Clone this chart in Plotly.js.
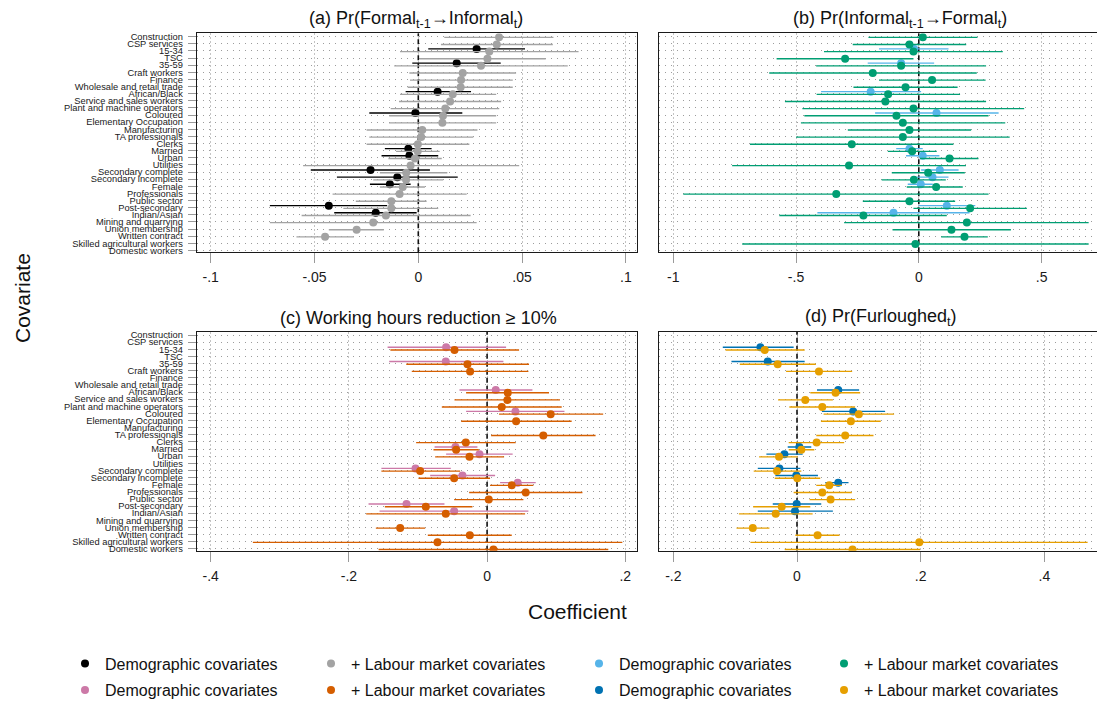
<!DOCTYPE html>
<html>
<head>
<meta charset="utf-8">
<script src="https://cdn.plot.ly/plotly-3.0.1.min.js"></script>
<style>
  html, body { margin: 0; padding: 0; overflow: hidden; background: #fff; }
  #chart { width: 1160px; height: 702px; }
</style>
</head>
<body>
<div id="chart"></div>
<script>
// Covariates, listed top to bottom
const covariates = [
  "Construction", "CSP services", "15-34", "TSC", "35-59", "Craft workers", "Finance",
  "Wholesale and retail trade", "African/Black", "Service and sales workers",
  "Plant and machine operators", "Coloured", "Elementary Occupation", "Manufacturing",
  "TA professionals", "Clerks", "Married", "Urban", "Utilities", "Secondary complete",
  "Secondary incomplete", "Female", "Professionals", "Public sector", "Post-secondary",
  "Indian/Asian", "Mining and quarrying", "Union membership", "Written contract",
  "Skilled agricultural workers", "Domestic workers"
];

// Covariates present in the demographic-only models
const demoCovariates = [
  "15-34", "35-59", "African/Black", "Coloured", "Married", "Urban",
  "Secondary complete", "Secondary incomplete", "Female", "Post-secondary", "Indian/Asian"
];

// (a) Pr(Formal t-1 -> Informal t)
const aDemEst = [0.0281, 0.0185, 0.0093, -0.0014, -0.0048, -0.0043, -0.0230, -0.0101, -0.0137, -0.0431, -0.0205];
const aDemLo  = [0.0048, -0.0029, -0.0061, -0.0236, -0.0161, -0.0177, -0.0518, -0.0392, -0.0233, -0.0715, -0.0405];
const aDemHi  = [0.0514, 0.0397, 0.0254, 0.0212, 0.0064, 0.0096, 0.0056, 0.0190, -0.0037, -0.0150, -0.0008];
const aLabEst = [0.0389, 0.0378, 0.0342, 0.0333, 0.0302, 0.0214, 0.0206, 0.0204, 0.0166, 0.0153, 0.0130,
  0.0119, 0.0116, 0.0019, 0.0014, -0.0002, -0.0003, -0.0016, -0.0037, -0.0058, -0.0059, -0.0075,
  -0.0090, -0.0130, -0.0130, -0.0156, -0.0217, -0.0297, -0.0449, null, null];
const aLabLo  = [0.0125, 0.0109, -0.0088, 0.0005, -0.0116, -0.0043, -0.0040, -0.0051, -0.0088, -0.0093, -0.0133,
  -0.0140, -0.0141, -0.0249, -0.0236, -0.0249, -0.0107, -0.0144, -0.0555, -0.0185, -0.0217, -0.0185,
  -0.0413, -0.0301, -0.0361, -0.0562, -0.0715, -0.0431, -0.0587, null, null];
const aLabHi  = [0.0651, 0.0648, 0.0772, 0.0614, 0.0720, 0.0471, 0.0455, 0.0455, 0.0375, 0.0399, 0.0390,
  0.0375, 0.0375, 0.0285, 0.0265, 0.0246, 0.0103, 0.0113, 0.0486, 0.0140, 0.0120, 0.0032,
  0.0233, 0.0040, 0.0096, 0.0252, 0.0281, -0.0166, -0.0310, null, null];

// (b) Pr(Informal t-1 -> Formal t)
const bDemEst = [-0.019, -0.072, -0.196, 0.072, -0.038, 0.016, 0.0856, 0.0557, 0.008, 0.114, -0.103];
const bDemLo  = [-0.162, -0.208, -0.398, -0.178, -0.092, -0.052, 0.0095, -0.008, -0.045, -0.001, -0.413];
const bDemHi  = [0.121, 0.0625, 0.0095, 0.325, 0.016, 0.084, 0.162, 0.121, 0.057, 0.230, 0.2065];
const bLabEst = [0.0163, -0.038, -0.0217, -0.300, -0.072, -0.1875, 0.054, -0.054, -0.125, -0.136, -0.0217,
  -0.091, -0.065, -0.038, -0.065, -0.273, -0.027, 0.125, -0.284, 0.038, -0.020, 0.0707,
  -0.336, -0.038, 0.209, -0.2255, 0.1957, 0.133, 0.186, -0.0136, null];
const bLabLo  = [-0.205, -0.269, -0.386, -0.579, -0.418, -0.609, -0.162, -0.266, -0.416, -0.545, -0.474,
  -0.466, -0.480, -0.289, -0.500, -0.6875, -0.126, 0.005, -0.760, -0.110, -0.151, -0.049,
  -0.959, -0.228, -0.0217, -0.568, -0.304, -0.107, 0.091, -0.719, null];
const bLabHi  = [0.239, 0.193, 0.342, -0.0217, 0.274, 0.236, 0.272, 0.158, 0.168, 0.274, 0.429,
  0.284, 0.352, 0.213, 0.370, 0.141, 0.073, 0.243, 0.192, 0.1875, 0.110, 0.179,
  0.284, 0.148, 0.440, 0.114, 0.6916, 0.375, 0.281, 0.6916, null];

// (c) Working hours reduction >= 10%
const cDemEst = [-0.0593, -0.0598, 0.0125, 0.041, -0.0458, -0.011, -0.1036, -0.0357, 0.0443, -0.1166, -0.0477];
const cDemLo  = [-0.144, -0.1417, -0.040, -0.0304, -0.076, -0.0593, -0.153, -0.0824, 0.0188, -0.1716, -0.1557];
const cDemHi  = [0.0275, 0.0236, 0.0656, 0.112, -0.014, 0.037, -0.0525, 0.0116, 0.0704, -0.0617, 0.0598];
const cLabEst = [null, null, -0.0472, null, -0.0284, -0.0246, null, null, 0.0299, 0.0294, 0.0212,
  0.092, 0.042, null, 0.0814, -0.0308, -0.0448, -0.0255, null, -0.0969, -0.0477, 0.0357,
  0.0559, 0.0024, -0.0887, -0.0598, null, -0.1258, -0.025, -0.0718, 0.0092];
const cLabLo  = [null, null, -0.140, null, -0.117, -0.109, null, null, -0.0304, -0.0472, -0.0655,
  0.0173, -0.0376, null, 0.0058, -0.1027, -0.0776, -0.0752, null, -0.153, -0.0993, 0.0043,
  -0.026, -0.0477, -0.148, -0.175, null, -0.161, -0.0858, -0.339, -0.157];
const cLabHi  = [null, null, 0.0463, null, 0.0607, 0.0598, null, null, 0.0896, 0.1055, 0.108,
  0.168, 0.1224, null, 0.157, 0.0414, -0.012, 0.0246, null, -0.039, 0.0043, 0.067,
  0.138, 0.0525, -0.0212, 0.055, null, -0.0896, 0.0357, 0.1957, 0.1754];

// (d) Pr(Furloughed t)
const dDemEst = [-0.0591, -0.0473, 0.0667, 0.0909, 0.0038, -0.0204, -0.0285, -0.0011, 0.0667, -0.0005, -0.0032];
const dDemLo  = [-0.120, -0.106, 0.0323, 0.0403, -0.015, -0.0495, -0.0634, -0.035, 0.0457, -0.0392, -0.0634];
const dDemHi  = [-0.0054, 0.0124, 0.1005, 0.1425, 0.0231, 0.0091, 0.0054, 0.0339, 0.0833, 0.0392, 0.058];
const dLabEst = [null, null, -0.0522, null, -0.0312, 0.0355, null, null, 0.0624, 0.0134, 0.0409,
  0.100, 0.0871, null, 0.078, 0.0317, 0.007, -0.029, null, -0.0323, 0.0005, 0.0522,
  0.0409, 0.0543, -0.0247, -0.0344, null, -0.0715, 0.0333, 0.1978, 0.0898];
const dLabLo  = [null, null, -0.1156, null, -0.0925, -0.0177, null, null, 0.0215, -0.0306, -0.0124,
  0.043, 0.0387, null, 0.0312, -0.0134, -0.0134, -0.0613, null, -0.070, -0.036, 0.0312,
  -0.0054, 0.0204, -0.071, -0.094, null, -0.0978, -0.0027, -0.0753, -0.0199];
const dLabHi  = [null, null, 0.0124, null, 0.0306, 0.0892, null, null, 0.1022, 0.058, 0.094,
  0.157, 0.1355, null, 0.1237, 0.0763, 0.028, 0.0011, null, 0.007, 0.0376, 0.0726,
  0.0887, 0.094, 0.0215, 0.0253, null, -0.0446, 0.0688, 0.470, 0.199];

// Axis tick labels
const aTicks = [-0.1, -0.05, 0, 0.05, 0.1],  aTickText = ["-.1", "-.05", "0", ".05", ".1"];
const bTicks = [-1, -0.5, 0, 0.5],           bTickText = ["-1", "-.5", "0", ".5"];
const cTicks = [-0.4, -0.2, 0, 0.2],         cTickText = ["-.4", "-.2", "0", ".2"];
const dTicks = [-0.2, 0, 0.2, 0.4],          dTickText = ["-.2", "0", ".2", ".4"];

const legendDemo = "Demographic covariates";
const legendLab = "+ Labour market covariates";

// ---------- layout helpers ----------
const W = 1160, H = 702;
const px = v => v / W;
const py = v => 1 - v / H;
const FONT = "Liberation Sans, Arial, Helvetica, sans-serif";
const DEM_OFF = -0.28, LAB_OFF = 0.1;   // vertical dodge of the two models within a row
const yRange = [30.27, -0.47];

const demoRows = demoCovariates.map(c => covariates.indexOf(c));
const allRows = covariates.map((c, i) => i);

function ciTrace(rows, est, lo, hi, off, color, xa, ya) {
  const xs = [], ys = [];
  rows.forEach((r, i) => {
    if (est[i] === null) return;
    xs.push(lo[i], hi[i], null);
    ys.push(r + off, r + off, null);
  });
  return { type: "scatter", mode: "lines", x: xs, y: ys, xaxis: xa, yaxis: ya,
           line: { color: color, width: 1.4 }, hoverinfo: "skip", showlegend: false };
}
function pointTrace(rows, est, off, color, xa, ya, name, legend) {
  const xs = [], ys = [];
  rows.forEach((r, i) => {
    if (est[i] === null) return;
    xs.push(est[i]); ys.push(r + off);
  });
  return { type: "scatter", mode: "markers", x: xs, y: ys, xaxis: xa, yaxis: ya,
           marker: { size: 8, color: color }, name: name, legend: legend,
           showlegend: true, hoverinfo: "skip" };
}
// Dashed vertical reference line at a coefficient of zero
function zeroTrace(xa, ya) {
  return { type: "scatter", mode: "lines", x: [0, 0], y: yRange, xaxis: xa, yaxis: ya,
           line: { color: "#111111", width: 1.6, dash: "5px,3px" },
           hoverinfo: "skip", showlegend: false };
}

const panels = [
  { xa: "x",  ya: "y",  dem: [aDemEst, aDemLo, aDemHi], lab: [aLabEst, aLabLo, aLabHi],
    cDem: "#000000", cLab: "#a3a3a3", lgDem: "legend",  lgLab: "legend2" },
  { xa: "x2", ya: "y2", dem: [bDemEst, bDemLo, bDemHi], lab: [bLabEst, bLabLo, bLabHi],
    cDem: "#56B4E9", cLab: "#009E73", lgDem: "legend3", lgLab: "legend4" },
  { xa: "x3", ya: "y3", dem: [cDemEst, cDemLo, cDemHi], lab: [cLabEst, cLabLo, cLabHi],
    cDem: "#CC79A7", cLab: "#D55E00", lgDem: "legend5", lgLab: "legend6" },
  { xa: "x4", ya: "y4", dem: [dDemEst, dDemLo, dDemHi], lab: [dLabEst, dLabLo, dLabHi],
    cDem: "#0072B2", cLab: "#E69F00", lgDem: "legend7", lgLab: "legend8" }
];

const traces = [];
panels.forEach(p => {
  traces.push(zeroTrace(p.xa, p.ya));
  traces.push(ciTrace(demoRows, p.dem[0], p.dem[1], p.dem[2], DEM_OFF, p.cDem, p.xa, p.ya));
  traces.push(pointTrace(demoRows, p.dem[0], DEM_OFF, p.cDem, p.xa, p.ya, legendDemo, p.lgDem));
  traces.push(ciTrace(allRows, p.lab[0], p.lab[1], p.lab[2], LAB_OFF, p.cLab, p.xa, p.ya));
  traces.push(pointTrace(allRows, p.lab[0], LAB_OFF, p.cLab, p.xa, p.ya, legendLab, p.lgLab));
});

// ---------- axes ----------
const leftDom = [px(196.7), px(637.3)], rightDom = [px(659.3), px(1150)];
const topDom = [py(252.3), py(33.3)], botDom = [py(550.7), py(331.7)];

function xAxis(dom, anchor, range, vals, text) {
  return {
    domain: dom, anchor: anchor, range: range, tickmode: "array", tickvals: vals, ticktext: text,
    showline: true, mirror: true, linecolor: "#1a1a1a", linewidth: 1,
    ticks: "outside", ticklen: 10, tickcolor: "#9a9a9a", tickwidth: 1,
    tickfont: { family: FONT, size: 14, color: "#1a1a1a" }, ticklabelstandoff: 2,
    showgrid: true, gridcolor: "#c4c4c4", gridwidth: 1, griddash: "2px,2px",
    zeroline: false, fixedrange: true
  };
}
function yAxis(dom, anchor, labelled) {
  return {
    domain: dom, anchor: anchor, range: yRange, tickmode: "array",
    tickvals: allRows, ticktext: covariates, showticklabels: labelled,
    ticks: labelled ? "outside" : "", ticklen: 8, tickcolor: "#9a9a9a", tickwidth: 1,
    tickfont: { family: FONT, size: 9.3, color: "#1a1a1a" }, ticklabelstandoff: 3,
    showline: true, mirror: true, linecolor: "#1a1a1a", linewidth: 1,
    showgrid: true, gridcolor: "#9c9c9c", gridwidth: 1, griddash: "1px,5px",
    zeroline: false, fixedrange: true
  };
}

const titleFont = { family: FONT, size: 18, color: "#111" };
const annotations = [
  { text: "(a) Pr(Formal<sub>t-1</sub>→Informal<sub>t</sub>)", x: px(416), y: py(20) },
  { text: "(b) Pr(Informal<sub>t-1</sub>→Formal<sub>t</sub>)", x: px(900), y: py(20) },
  { text: "(c) Working hours reduction ≥ 10%", x: px(418), y: py(318) },
  { text: "(d) Pr(Furloughed<sub>t</sub>)", x: px(881), y: py(318) }
].map(a => Object.assign({ xref: "paper", yref: "paper", xanchor: "center", yanchor: "middle",
                           showarrow: false, font: titleFont }, a));
annotations.push({ text: "Covariate", xref: "paper", yref: "paper", x: px(22), y: py(298),
  textangle: -90, showarrow: false, xanchor: "center", yanchor: "middle",
  font: { family: FONT, size: 21, color: "#111" } });
annotations.push({ text: "Coefficient", xref: "paper", yref: "paper", x: px(577), y: py(611),
  showarrow: false, xanchor: "center", yanchor: "middle",
  font: { family: FONT, size: 21, color: "#111" } });

// Legend: four columns, two rows
const legendCols = [86, 332, 600, 845], legendRows = [663.5, 690];
function legendBox(col, row) {
  return { x: px(legendCols[col] - 21), y: py(legendRows[row]), xanchor: "left", yanchor: "middle",
           orientation: "v", bgcolor: "rgba(0,0,0,0)", borderwidth: 0,
           font: { family: FONT, size: 16, color: "#111" } };
}

const layout = {
  width: W, height: H, margin: { l: 0, r: 0, t: 0, b: 0, autoexpand: false },
  paper_bgcolor: "#ffffff", plot_bgcolor: "#ffffff", hovermode: false,
  font: { family: FONT },
  xaxis:  xAxis(leftDom,  "y",  [-0.10674, 0.10549], aTicks, aTickText),
  xaxis2: xAxis(rightDom, "y2", [-1.0566, 0.9414],   bTicks, bTickText),
  xaxis3: xAxis(leftDom,  "y3", [-0.4203, 0.2174],   cTicks, cTickText),
  xaxis4: xAxis(rightDom, "y4", [-0.2227, 0.5709],   dTicks, dTickText),
  yaxis:  yAxis(topDom, "x",  true),
  yaxis2: yAxis(topDom, "x2", false),
  yaxis3: yAxis(botDom, "x3", true),
  yaxis4: yAxis(botDom, "x4", false),
  annotations: annotations,
  legend:  legendBox(0, 0), legend2: legendBox(1, 0), legend3: legendBox(2, 0), legend4: legendBox(3, 0),
  legend5: legendBox(0, 1), legend6: legendBox(1, 1), legend7: legendBox(2, 1), legend8: legendBox(3, 1)
};

Plotly.newPlot("chart", traces, layout, { displayModeBar: false });
</script>
</body>
</html>
